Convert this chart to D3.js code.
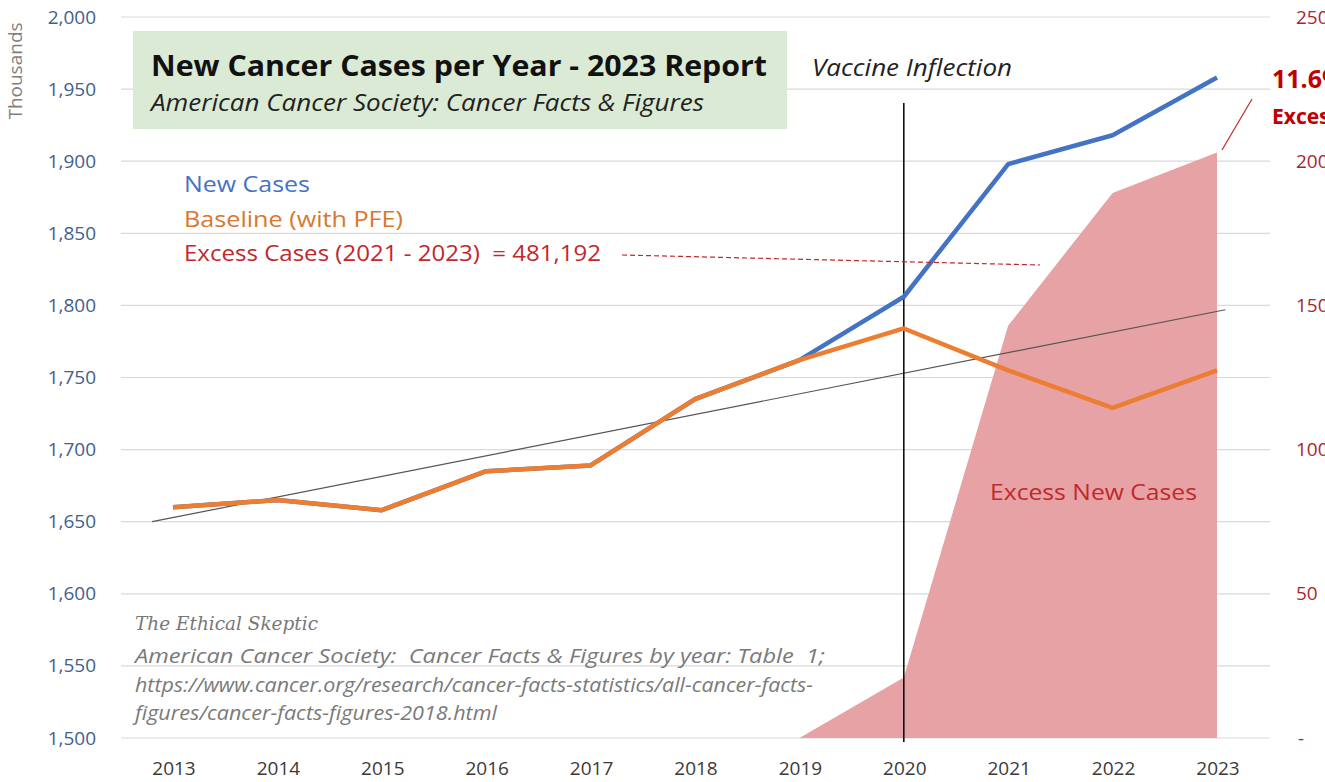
<!DOCTYPE html>
<html lang="en">
<head>
<meta charset="UTF-8">
<title>New Cancer Cases per Year - 2023 Report</title>
<script src="https://cdnjs.cloudflare.com/ajax/libs/d3/7.8.5/d3.min.js"></script>
<style>
    body { margin: 0; background: #fff; overflow: hidden; }
    svg { display: block; font-family: "Open Sans", Lato, sans-serif; }
    .grid line { stroke: #d9d9d9; stroke-width: 1.2; }
    .tick-left { fill: #44608c; font-size: 19px; text-anchor: end; }
    .tick-right { fill: #a8282c; font-size: 19px; }
    .tick-x { fill: #3a3a3a; font-size: 19px; text-anchor: middle; }
</style>
</head>
<body>
<svg id="chart" width="1325" height="782"></svg>
<script>
// --- Data (thousands) ---
const years = [2013, 2014, 2015, 2016, 2017, 2018, 2019, 2020, 2021, 2022, 2023];
const newCases = [1660, 1665, 1658, 1685, 1689, 1735, 1762, 1806, 1898, 1918, 1958];
const baseline = [1660, 1665, 1658, 1685, 1689, 1735, 1762, 1784, 1755, 1729, 1755];
const excessYears = [2019, 2020, 2021, 2022, 2023];
const excessValues = [0, 21, 143, 189, 203];
const trendYears = [2012.8, 2023.08];
const trendValues = [1650, 1797];
const leftTicks = [1500, 1550, 1600, 1650, 1700, 1750, 1800, 1850, 1900, 1950, 2000];
const rightTicks = [0, 50, 100, 150, 200, 250];
const rightLabels = ["-", "50", "100", "150", "200", "250"];

const svg = d3.select("#chart");

// --- Scales ---
const x = d3.scaleLinear().domain([2013, 2023]).range([173, 1217]);
const yL = d3.scaleLinear().domain([1500, 2000]).range([738, 17]);
const yR = d3.scaleLinear().domain([0, 250]).range([738, 17]);
const plotLeft = 121, plotRight = 1270;

// helper: text squeezed/stretched to the width it has in the original
function label(g, str, px, py, width, attrs) {
    const t = g.append("text").attr("x", px).attr("y", py).text(str);
    if (width) t.attr("textLength", width).attr("lengthAdjust", "spacingAndGlyphs");
    Object.entries(attrs || {}).forEach(([k, v]) => t.attr(k, v));
    return t;
}

// --- Gridlines ---
svg.append("g").attr("class", "grid")
    .selectAll("line").data(leftTicks).join("line")
    .attr("x1", plotLeft).attr("x2", plotRight)
    .attr("y1", d => yL(d)).attr("y2", d => yL(d));

// --- Excess area (right axis) ---
svg.append("path")
    .datum(excessYears.map((yr, i) => [yr, excessValues[i]]))
    .attr("fill", "#e6a2a4")
    .attr("d", d3.area().x(d => x(d[0])).y0(yR(0)).y1(d => yR(d[1])));

// --- Trend line ---
svg.append("path")
    .datum(trendYears.map((yr, i) => [yr, trendValues[i]]))
    .attr("fill", "none").attr("stroke", "#555").attr("stroke-width", 1.2)
    .attr("d", d3.line().x(d => x(d[0])).y(d => yL(d[1])));

// --- Vaccine inflection line ---
svg.append("line")
    .attr("x1", x(2020)).attr("x2", x(2020))
    .attr("y1", 103).attr("y2", 742)
    .attr("stroke", "#111").attr("stroke-width", 1.6);

// --- Series lines ---
const line = d3.line().x((d, i) => x(years[i])).y(d => yL(d));
svg.append("path").datum(newCases)
    .attr("fill", "none").attr("stroke", "#4472c4").attr("stroke-width", 4.5)
    .attr("stroke-linejoin", "round").attr("d", line);
svg.append("path").datum(baseline)
    .attr("fill", "none").attr("stroke", "#ed7d31").attr("stroke-width", 4.5)
    .attr("stroke-linejoin", "round").attr("d", line);

// --- Axes labels ---
svg.append("g").selectAll("text").data(leftTicks).join("text")
    .attr("class", "tick-left")
    .attr("x", 96).attr("y", d => yL(d) + 6.5)
    .text(d => d3.format(",")(d));

svg.append("g").selectAll("text").data(rightTicks).join("text")
    .attr("class", "tick-right")
    .attr("x", (d, i) => i === 0 ? 1298 : 1296).attr("y", d => yR(d) + 6.5)
    .text((d, i) => rightLabels[i]);

svg.append("g").selectAll("text").data(years).join("text")
    .attr("class", "tick-x")
    .attr("x", d => x(d) + 1).attr("y", 775)
    .text(d => d);

svg.append("text")
    .attr("transform", "translate(22,71) rotate(-90)")
    .attr("text-anchor", "middle")
    .attr("fill", "#7f7f7f").attr("font-size", 19)
    .text("Thousands");

// --- Title box ---
svg.append("rect")
    .attr("x", 133).attr("y", 31).attr("width", 654).attr("height", 98)
    .attr("fill", "#dbead4");
label(svg, "New Cancer Cases per Year - 2023 Report", 151, 76, 616,
    { "font-size": 29, "font-weight": "bold", fill: "#111" });
label(svg, "American Cancer Society: Cancer Facts & Figures", 151, 111, 553,
    { "font-size": 23.5, "font-style": "italic", fill: "#222" });

label(svg, "Vaccine Inflection", 812, 76, 200,
    { "font-size": 23.5, "font-style": "italic", fill: "#222" });

// --- Legend text ---
const legendNames = ["New Cases", "Baseline (with PFE)", "Excess Cases (2021 - 2023)  = 481,192"];
const legendColors = ["#4472c4", "#d9772d", "#c0282d"];
const legendWidths = [126, 219, 417];
legendNames.forEach((name, i) => {
    label(svg, name, 184, 192 + i * 34.5, legendWidths[i],
        { "font-size": 21.5, fill: legendColors[i], "xml:space": "preserve" });
});

svg.append("line")
    .attr("x1", 622).attr("y1", 255).attr("x2", 1040).attr("y2", 265)
    .attr("stroke", "#c0282d").attr("stroke-width", 1.2)
    .attr("stroke-dasharray", "5,3");

label(svg, "Excess New Cases", 990, 500, 207,
    { "font-size": 22.5, fill: "#c0282d" });

// --- Callout at top right ---
svg.append("line")
    .attr("x1", 1222).attr("y1", 150).attr("x2", 1252).attr("y2", 99)
    .attr("stroke", "#c0282d").attr("stroke-width", 1.2);
label(svg, "11.6%", 1272, 88, null,
    { "font-size": 25, "font-weight": "bold", fill: "#c00000" });
label(svg, "Excess", 1272, 124, null,
    { "font-size": 21, "font-weight": "bold", fill: "#c00000" });

// --- Source notes ---
label(svg, "The Ethical Skeptic", 135, 630, 183,
    { "font-family": "'DejaVu Serif', serif", "font-style": "italic", "font-size": 19, fill: "#777" });
const notes = [
    "American Cancer Society:  Cancer Facts & Figures by year: Table  1;",
    "https://www.cancer.org/research/cancer-facts-statistics/all-cancer-facts-",
    "figures/cancer-facts-figures-2018.html"
];
const noteWidths = [690, 678, 362];
notes.forEach((n, i) => {
    label(svg, n, 135, 663 + i * 28.5, noteWidths[i],
        { "font-size": 19.5, "font-style": "italic", fill: "#7a7a7a", "xml:space": "preserve" });
});
</script>
</body>
</html>
